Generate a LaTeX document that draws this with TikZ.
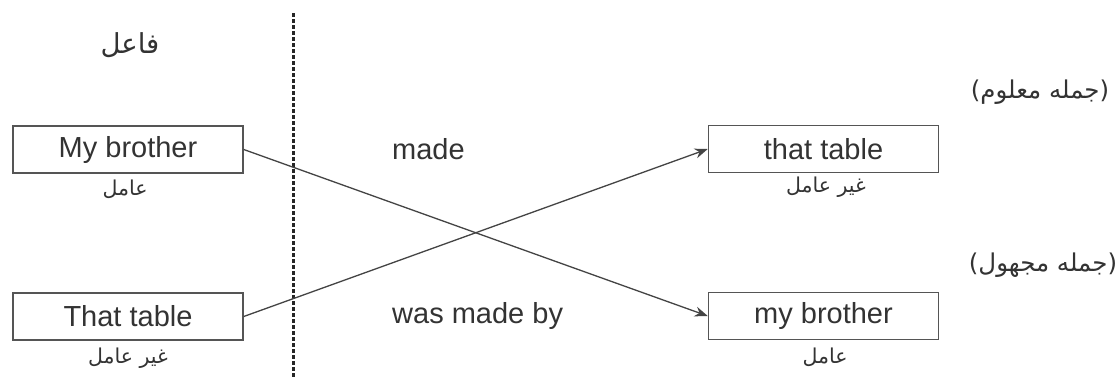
\documentclass[tikz,border=0pt]{standalone}
\usepackage{fontspec}
\setmainfont{Liberation Sans}
\newfontfamily\arabicfont[Script=Arabic]{DejaVu Sans}
\TeXXeTstate=1
\usetikzlibrary{arrows.meta}
\definecolor{boxgray}{HTML}{555555}
\definecolor{textgray}{HTML}{333333}
\definecolor{linegray}{HTML}{444444}
\begin{document}
\begin{tikzpicture}[x=1pt,y=-1pt,
  box/.style={draw=boxgray, line width=1.5pt, minimum width=230pt, minimum height=47pt, inner sep=0pt, text=textgray, font=\fontsize{29}{34}\selectfont},
  verb/.style={anchor=west, inner sep=0pt, text=textgray, font=\fontsize{29}{34}\selectfont},
  arlabel/.style={inner sep=0pt, text=textgray, font=\arabicfont\fontsize{20.5}{24}\selectfont},
  arhead/.style={inner sep=0pt, text=textgray, font=\arabicfont\fontsize{27.5}{32}\selectfont},
  arside/.style={inner sep=0pt, text=textgray, font=\arabicfont\fontsize{24.5}{29}\selectfont},
  arr/.style={draw=linegray, line width=1.3pt, -{Stealth[length=13pt,width=10pt]}},
  dashline/.style={draw=black!85, line width=3pt, dash pattern=on 4pt off 2pt}]
\useasboundingbox (0,0) rectangle (1119,378);
\fill[white] (0,0) rectangle (1119,378);

\node[arhead] (fa) at (130,45) {\beginR فاعل\endR};

\node[box] (b1) at (128,149.5) {My brother};
\node[box] (b2) at (128,316.5) {That table};
\node[box] (b3) at (823.5,149) {that table};
\node[box] (b4) at (823.5,316) {my brother};

\node[arlabel] (l1) at (125,189) {\beginR عامل\endR};
\node[arlabel] (l2) at (128,358) {\beginR غیر عامل\endR};
\node[arlabel] (l3) at (826,187) {\beginR غیر عامل\endR};
\node[arlabel] (l4) at (825,357) {\beginR عامل\endR};

\node[verb] (v1) at (392,149) {made};
\node[verb] (v2) at (392,316) {was made by};

\node[arside] (s1) at (1040,92) {\beginR(جمله معلوم)\endR};
\node[arside] (s2) at (1043,265) {\beginR(جمله مجهول)\endR};

\coordinate (dtop) at (293,13);
\coordinate (dbot) at (293,378);
\draw[dashline] (dtop) -- (dbot);

\draw[arr] (b1.east) -- (b4.west);
\draw[arr] (b2.east) -- (b3.west);
\end{tikzpicture}
\end{document}
